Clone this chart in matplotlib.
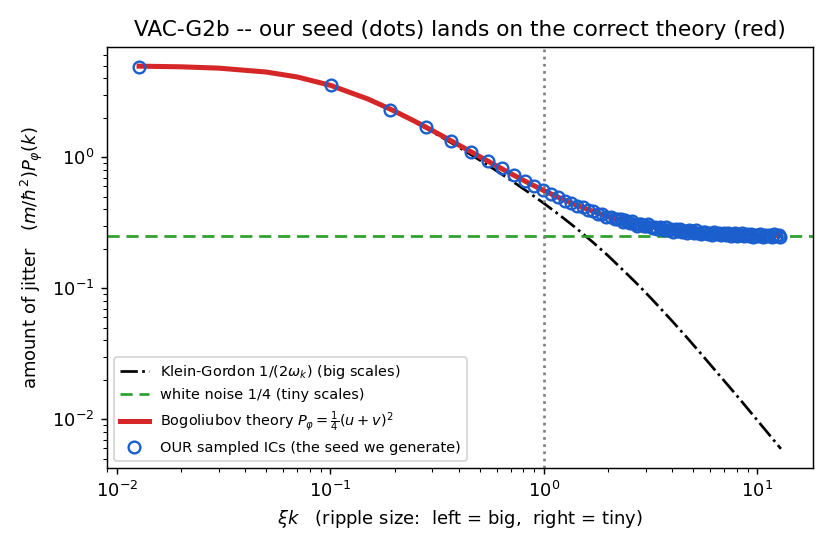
import matplotlib.pyplot as plt

# theory curves (xi*k on x)
curve_x = [0.0127, 0.02, 0.03, 0.05, 0.07, 0.1, 0.15, 0.2, 0.25, 0.3, 0.4, 0.5, 0.6, 0.7,
           0.85, 1.0, 1.2, 1.4, 1.7, 2.0, 2.4, 2.8, 3.3, 4.0, 4.7, 5.6, 6.7, 8.0, 10.0, 12.9]
kg_y = [4.960, 4.903, 4.789, 4.472, 4.095, 3.533, 2.768, 2.227, 1.845, 1.565, 1.190, 0.952,
        0.788, 0.668, 0.538, 0.445, 0.356, 0.292, 0.224, 0.177, 0.133, 0.104, 0.0785,
        0.0559, 0.0417, 0.0300, 0.0213, 0.0152, 0.00981, 0.00594]
bog_y = [4.961, 4.903, 4.790, 4.475, 4.100, 3.542, 2.784, 2.249, 1.873, 1.601, 1.238, 1.012,
         0.859, 0.750, 0.635, 0.557, 0.485, 0.435, 0.386, 0.353, 0.325, 0.307, 0.292,
         0.279, 0.272, 0.265, 0.261, 0.258, 0.255, 0.253]
white_level = 0.25

# sampled initial conditions (the blue rings)
dot_x = [0.0127, 0.101, 0.190, 0.279, 0.368, 0.456, 0.545, 0.634, 0.723, 0.812, 0.900,
         0.989, 1.078, 1.167, 1.255, 1.344, 1.433, 1.522, 1.610, 1.699, 1.788, 1.877,
         1.965, 2.054, 2.143, 2.232,
         2.29, 2.35, 2.41, 2.47, 2.53, 2.59, 2.66, 2.72, 2.79, 2.86, 2.93, 3.00, 3.08,
         3.16, 3.24, 3.32, 3.40, 3.49, 3.57, 3.66, 3.75, 3.85, 3.94, 4.04, 4.14, 4.25,
         4.35, 4.46, 4.57, 4.69, 4.80, 4.92, 5.05, 5.17, 5.30, 5.43, 5.57, 5.71, 5.85,
         6.00, 6.15, 6.30, 6.46, 6.62, 6.79, 6.96, 7.13, 7.31, 7.49, 7.68, 7.87, 8.07,
         8.27, 8.48, 8.69, 8.91, 9.13, 9.36, 9.59, 9.83, 10.08, 10.33, 10.59, 10.85,
         11.12, 11.40, 11.69, 11.98, 12.28, 12.59, 12.75]
dot_y = [4.90, 3.54, 2.30, 1.70, 1.34, 1.10, 0.935, 0.822, 0.726, 0.664, 0.602,
         0.566, 0.521, 0.499, 0.466, 0.451, 0.424, 0.416, 0.394, 0.389, 0.371, 0.368,
         0.352, 0.352, 0.339, 0.338,
         0.335, 0.322, 0.331, 0.322, 0.316, 0.325, 0.310, 0.301, 0.311, 0.311, 0.297,
         0.300, 0.307, 0.293, 0.288, 0.295, 0.281, 0.294, 0.287, 0.279, 0.292, 0.279,
         0.283, 0.271, 0.283, 0.274, 0.283, 0.269, 0.273, 0.264, 0.276, 0.273, 0.264,
         0.276, 0.265, 0.258, 0.268, 0.270, 0.259, 0.264, 0.255, 0.270, 0.259, 0.264,
         0.253, 0.265, 0.255, 0.262, 0.251, 0.258, 0.263, 0.252, 0.255, 0.265, 0.249,
         0.259, 0.251, 0.261, 0.248, 0.255, 0.250, 0.260, 0.247, 0.257, 0.249, 0.254,
         0.246, 0.259, 0.251, 0.256, 0.248]

fig, ax = plt.subplots(figsize=(6.4, 4.2), dpi=130)
fig.subplots_adjust(left=0.1286, right=0.9772, top=0.9139, bottom=0.1429)

ax.plot(curve_x, kg_y, color="black", linestyle="-.", linewidth=1.5,
        label=r"Klein-Gordon $1/(2\omega_k)$ (big scales)")
ax.axhline(white_level, color="#2ca02c", linewidth=1.5, dashes=(4.5, 2.5),
           label="white noise 1/4 (tiny scales)")
ax.plot(curve_x, bog_y, color="#d62728", linewidth=2.8,
        label=r"Bogoliubov theory $P_\varphi = \frac{1}{4}(u+v)^2$")
ax.plot(dot_x, dot_y, linestyle="none", marker="o", markersize=6.5,
        markerfacecolor="none", markeredgecolor="#1a5fcd", markeredgewidth=1.3,
        label="OUR sampled ICs (the seed we generate)")
ax.axvline(1.0, color="grey", linestyle=":", linewidth=1.5)

ax.set_xscale("log")
ax.set_yscale("log")
ax.set_xlabel(r"$\xi k$   (ripple size:  left = big,  right = tiny)")
ax.set_ylabel(r"amount of jitter   $(m/\hbar^2)P_\varphi(k)$")
ax.set_title("VAC-G2b -- our seed (dots) lands on the correct theory (red)")
ax.legend(loc="lower left", fontsize=8)

fig.savefig("out.png", dpi=130)
